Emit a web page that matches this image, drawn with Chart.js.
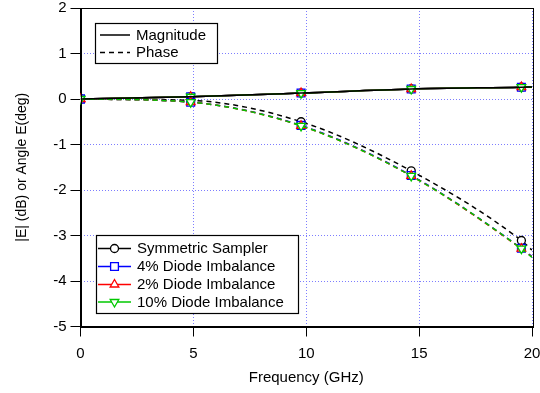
<!DOCTYPE html>
<html><head><meta charset="utf-8">
<script src="https://cdn.jsdelivr.net/npm/chart.js@4/dist/chart.umd.min.js"></script>
<style>html,body{margin:0;padding:0;background:#fff}#wrap{width:540px;height:393px;position:relative}</style>
</head><body><div id="wrap"><canvas id="c"></canvas></div>
<script>
// ---- data ----
const freq = [0, 4.88, 9.77, 14.65, 19.53, 20];      // GHz; last entry = curve end at right edge
const hasMarker = [1, 1, 1, 1, 1, 0];
const magSym  = [0, 0.05, 0.13, 0.22, 0.26, 0.265];
const mag4    = [0, 0.05, 0.13, 0.22, 0.26, 0.265];
const mag2    = [0, 0.05, 0.13, 0.22, 0.26, 0.265];
const mag10   = [0, 0.05, 0.13, 0.22, 0.26, 0.265];
const phSym   = [0, -0.03, -0.50, -1.58, -3.11, -3.32];
const ph4     = [0, -0.07, -0.58, -1.68, -3.28, -3.46];
const ph2     = [0, -0.07, -0.59, -1.69, -3.29, -3.47];
const ph10    = [0, -0.07, -0.59, -1.69, -3.29, -3.48];
const xTicks = [0, 5, 10, 15, 20];
const yTicks = [2, 1, 0, -1, -2, -3, -4, -5];
const seriesNames = ['Symmetric Sampler', '4% Diode Imbalance', '2% Diode Imbalance', '10% Diode Imbalance'];
const kindNames = ['Magnitude', 'Phase'];

const FONT = '"Liberation Sans", Arial, Helvetica, sans-serif';
const styles = [
  {color:'#000000', pointStyle:'circle',   rot:0,   r:4},
  {color:'#0000ff', pointStyle:'rect',     rot:0,   r:5.5},
  {color:'#ff0000', pointStyle:'triangle', rot:0,   r:5},
  {color:'#00c800', pointStyle:'triangle', rot:180, r:5}
];
const magData = [magSym, mag4, mag2, mag10];
const phData  = [phSym, ph4, ph2, ph10];

function mk(vals, si, dashed, lineOnly) {
  const s = styles[si];
  return {
    label: seriesNames[si] + (dashed ? ' phase' : ' magnitude'),
    data: freq.map((f, i) => ({x: f, y: vals[i]})),
    borderColor: s.color,
    backgroundColor: '#ffffff',
    borderWidth: 1.5,
    borderDash: dashed ? [5, 4] : [],
    pointStyle: s.pointStyle,
    pointRotation: s.rot,
    pointRadius: lineOnly ? 0 : hasMarker.map(m => m ? s.r : 0),
    pointBorderColor: s.color,
    pointBackgroundColor: '#ffffff',
    pointBorderWidth: 1.3,
    showLine: true,
    fill: false,
    cubicInterpolationMode: 'monotone'
  };
}
// drawing order: first dataset ends on top
const order = [3, 2, 1, 0];
const datasets = [mk(magSym, 0, false, true)];
order.forEach(si => datasets.push(mk(phData[si], si, true)));
order.forEach(si => datasets.push(mk(magData[si], si, false)));

function marker(ctx, s, x, y) {
  ctx.save();
  ctx.strokeStyle = s.color; ctx.lineWidth = 1.3; ctx.setLineDash([]);
  ctx.beginPath();
  if (s.pointStyle === 'circle') { ctx.arc(x, y, s.r, 0, Math.PI*2); }
  else if (s.pointStyle === 'rect') { const h = s.r*Math.SQRT1_2; ctx.rect(x-h, y-h, 2*h, 2*h); }
  else {
    const dir = s.rot ? -1 : 1, r = s.r;
    ctx.moveTo(x, y - dir*r);
    ctx.lineTo(x + r*0.866, y + dir*r*0.5);
    ctx.lineTo(x - r*0.866, y + dir*r*0.5);
    ctx.closePath();
  }
  ctx.fillStyle = '#fff'; ctx.fill();
  ctx.stroke();
  ctx.restore();
}

const overlay = {
  id: 'overlay',
  afterDraw(chart) {
    const ctx = chart.ctx, a = chart.chartArea;
    ctx.save();
    // frame
    ctx.strokeStyle = '#000'; ctx.lineWidth = 1; ctx.setLineDash([]);
    ctx.strokeRect(Math.round(a.left)+0.5, Math.round(a.top)+0.5, Math.round(a.right-a.left), Math.round(a.bottom-a.top));
    ctx.font = '15px ' + FONT; ctx.fillStyle = '#000'; ctx.textBaseline = 'middle'; ctx.textAlign = 'left';
    // legend 1
    ctx.fillStyle = '#fff'; ctx.fillRect(95.5, 23.5, 122, 40);
    ctx.strokeStyle = '#000'; ctx.lineWidth = 1.2; ctx.strokeRect(95.5, 23.5, 122, 40);
    ctx.fillStyle = '#000';
    [[35, []], [52.5, [5, 4]]].forEach((row, i) => {
      ctx.setLineDash(row[1]); ctx.lineWidth = 1.5;
      ctx.beginPath(); ctx.moveTo(100, row[0]); ctx.lineTo(130, row[0]); ctx.stroke();
      ctx.fillText(kindNames[i], 136, row[0] + 0.5);
    });
    ctx.setLineDash([]);
    // legend 2
    ctx.fillStyle = '#fff'; ctx.fillRect(96.5, 235.5, 202, 78);
    ctx.strokeStyle = '#000'; ctx.lineWidth = 1.2; ctx.strokeRect(96.5, 235.5, 202, 78);
    const rows = [248.5, 266.5, 284.5, 302];
    [0, 1, 2, 3].forEach(si => {
      const s = styles[si], y = rows[si];
      ctx.strokeStyle = s.color; ctx.lineWidth = 1.5;
      ctx.beginPath(); ctx.moveTo(98, y); ctx.lineTo(131, y); ctx.stroke();
      marker(ctx, s, 114.5, y);
      ctx.fillStyle = '#000';
      ctx.fillText(seriesNames[si], 137, y + 0.5);
    });
    ctx.restore();
  }
};

const gridOpts = { color: 'rgb(125,125,255)', lineWidth: 1, tickLength: 10, tickColor: '#000', tickWidth: 1 };

new Chart(document.getElementById('c'), {
  type: 'scatter',
  data: { datasets },
  options: {
    responsive: true, maintainAspectRatio: false, animation: false,
    layout: { padding: { top: 8, right: 8, left: 0, bottom: 0 } },
    plugins: { legend: { display: false }, tooltip: { enabled: false } },
    scales: {
      x: {
        type: 'linear', min: 0, max: 20,
        afterBuildTicks: s => { s.ticks = xTicks.map(v => ({value: v})); },
        afterFit: s => { s.height = 66.5; s.paddingLeft = 0; s.paddingRight = 0; },
        ticks: { color: '#000', font: { family: FONT, size: 15 }, padding: 8, maxRotation: 0 },
        grid: gridOpts,
        border: { display: true, color: '#000', width: 1, dash: [1, 2] },
        title: { display: true, text: 'Frequency (GHz)', color: '#000', font: { family: FONT, size: 15 }, padding: { top: 0, bottom: 6 } }
      },
      y: {
        type: 'linear', min: -5, max: 2,
        afterBuildTicks: s => { s.ticks = yTicks.map(v => ({value: v})); },
        afterFit: s => { s.width = 80.5; s.paddingTop = 0; s.paddingBottom = 0; },
        ticks: { color: '#000', font: { family: FONT, size: 15 }, padding: 4 },
        grid: gridOpts,
        border: { display: true, color: '#000', width: 1, dash: [1, 2] },
        title: { display: true, text: '|E| (dB) or Angle E(deg)', color: '#000', font: { family: FONT, size: 14 }, padding: { top: 14, bottom: 0 } }
      }
    }
  },
  plugins: [overlay]
});
</script></body></html>
